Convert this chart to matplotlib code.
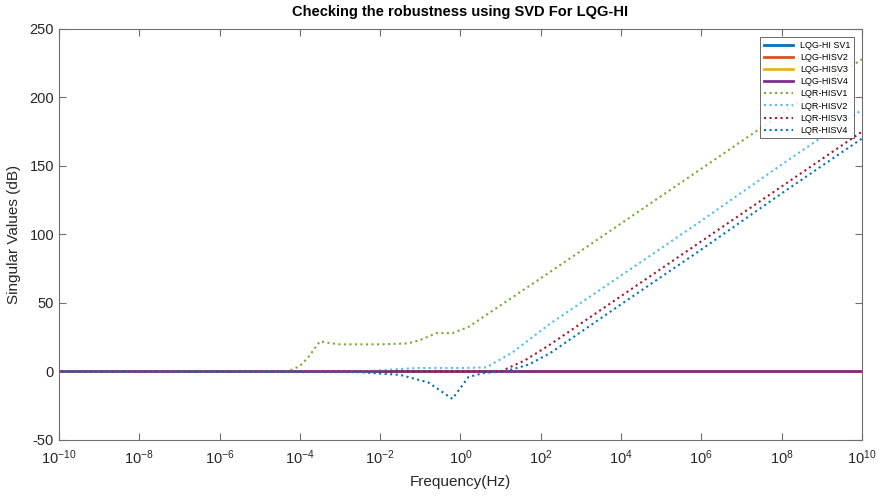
import matplotlib.pyplot as plt
import numpy as np

plt.rcParams['font.family'] = ['Liberation Sans', 'DejaVu Sans']
plt.rcParams['mathtext.fontset'] = 'custom'
plt.rcParams['mathtext.rm'] = 'Liberation Sans'
plt.rcParams['mathtext.it'] = 'Liberation Sans:italic'
plt.rcParams['mathtext.bf'] = 'Liberation Sans:bold'
plt.rcParams['axes.unicode_minus'] = False

# LQG-HI singular values (all flat at 0 dB)
lqg_exp = [-10, 10]
lqg_sv1 = [0, 0]
lqg_sv2 = [0, 0]
lqg_sv3 = [0, 0]
lqg_sv4 = [0, 0]

# LQR-HI singular values, frequency given as log10 exponent
sv1_exp = [-10, -4.3, -4.0, -3.8, -3.5, -3.2, -3.0, -2.0, -1.3, -1.0, -0.6, -0.2, 0.2, 2.23, 4, 6, 8, 10]
sv1_db = [0, 0, 4, 10, 22, 20.5, 19.8, 19.8, 20.5, 23, 28, 28, 32.5, 72.6, 108, 148, 188, 228]

sv2_exp = [-10, -2.5, -1.1, 0.0, 0.65, 1.3, 2.24, 4, 6, 8, 10]
sv2_db = [0, 0, 2.5, 2.5, 3, 14, 35, 70, 110, 151, 191]

sv3_exp = [-10, 1.0, 1.6, 2.2, 4, 6, 8, 10]
sv3_db = [0, 0, 8, 19, 55, 95, 135, 175]

sv4_exp = [-10, -2.5, -1.5, -0.8, -0.2, 0.2, 0.6, 1.1, 1.7, 2.24, 4, 6, 8, 10]
sv4_db = [0, -0.5, -2.5, -8, -20, -4, -1, 0, 5, 13.5, 49, 89, 130, 170]

fig = plt.figure(figsize=(8.84, 4.98), dpi=100)
ax = fig.add_axes([0.0667, 0.1165, 0.9083, 0.8253])

to_f = lambda e: 10.0 ** np.array(e)

ax.plot(to_f(lqg_exp), lqg_sv1, color='#0072BD', lw=2, label='LQG-HI SV1')
ax.plot(to_f(lqg_exp), lqg_sv2, color='#D95319', lw=2, label='LQG-HISV2')
ax.plot(to_f(lqg_exp), lqg_sv3, color='#EDB120', lw=2, label='LQG-HISV3')
ax.plot(to_f(lqg_exp), lqg_sv4, color='#7E2F8E', lw=2, label='LQG-HISV4')
ax.plot(to_f(sv1_exp), sv1_db, color='#77AC30', lw=1.5, ls=':', label='LQR-HISV1')
ax.plot(to_f(sv2_exp), sv2_db, color='#4DBEEE', lw=1.5, ls=':', label='LQR-HISV2')
ax.plot(to_f(sv3_exp), sv3_db, color='#A2142F', lw=1.5, ls=':', label='LQR-HISV3')
ax.plot(to_f(sv4_exp), sv4_db, color='#0072BD', lw=1.5, ls=':', label='LQR-HISV4')

ax.set_xscale('log')
ax.set_xlim(1e-10, 1e10)
ax.set_ylim(-50, 250)
ax.set_xticks([10.0 ** k for k in range(-10, 11, 2)])
ax.set_xticklabels(['$10^{%d}$' % k for k in range(-10, 11, 2)])
ax.xaxis.set_minor_locator(plt.NullLocator())
ax.set_yticks(np.arange(-50, 251, 50))

for s in ax.spines.values():
    s.set_color('#6e6e6e')
ax.tick_params(which='both', direction='in', top=True, right=True, length=5,
               color='#6e6e6e', labelsize=10.5, labelcolor='#262626')
ax.tick_params(axis='x', pad=6)

ax.set_title('Checking the robustness using SVD For LQG-HI', fontsize=10.5,
             fontweight='bold', pad=9)
ax.set_xlabel('Frequency(Hz)', fontsize=11, labelpad=6, color='#262626')
ax.set_ylabel('Singular Values (dB)', fontsize=11, labelpad=6, color='#262626')

leg = ax.legend(loc='upper right', fontsize=6.5, frameon=True, fancybox=False,
                edgecolor='#262626', handlelength=3.2, borderpad=0.4,
                labelspacing=0.35, borderaxespad=0.9)
leg.get_frame().set_linewidth(0.6)

fig.savefig('out.png', dpi=100)
